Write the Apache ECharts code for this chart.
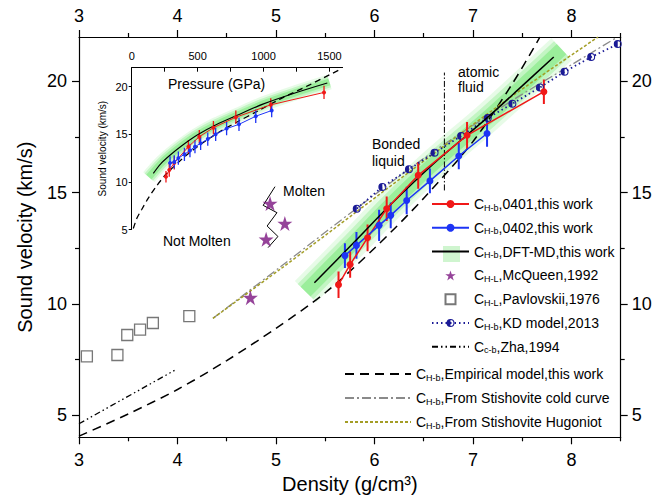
<!DOCTYPE html>
<html><head><meta charset="utf-8">
<script src="https://cdn.jsdelivr.net/npm/echarts@6/dist/echarts.min.js"></script>
<style>html,body{margin:0;padding:0;background:#fff}#c{width:672px;height:500px}</style>
</head><body><div id="c"></div>
<script>
// ---------- axis ticks ----------
const densityTicks = [3, 4, 5, 6, 7, 8];
const densityMinor = [3.5, 4.5, 5.5, 6.5, 7.5, 8.5];
const velocityTicks = [5, 10, 15, 20];
const velocityMinor = [7.5, 12.5, 17.5];
const pressureTicks = [0, 500, 1000, 1500];
const pressureAllTicks = [0, 250, 500, 750, 1000, 1250, 1500];
const insetVelocityTicks = [5, 10, 15, 20];

// ---------- main panel data (density g/cm3, velocity km/s) ----------
const red0401Density = [5.635, 5.753, 5.93, 6.124, 6.444, 6.94, 7.72];
const red0401Velocity = [10.86, 11.77, 12.97, 14.28, 15.78, 17.58, 19.54];
const red0401Error = [0.6, 0.6, 0.6, 0.55, 0.6, 0.6, 0.55];

const blue0402Density = [5.70, 5.817, 6.047, 6.165, 6.327, 6.563, 6.856, 7.143];
const blue0402Velocity = [12.17, 12.63, 13.53, 13.98, 14.65, 15.53, 16.65, 17.66];
const blue0402Error = [0.56, 0.6, 0.7, 0.58, 0.62, 0.56, 0.6, 0.6];

const dftDensity = [5.39, 5.8, 6.15, 6.6, 7.14, 7.5, 7.82];
const dftVelocity = [10.95, 12.8, 14.4, 16.3, 18.35, 19.8, 21.1];
const dftBandDensity = [5.3, 5.8, 6.15, 6.6, 7.14, 7.5, 7.9];
const dftBandVelocity = [10.55, 12.8, 14.4, 16.3, 18.35, 19.8, 21.45];

const mcqueenDensity = [4.74, 4.90, 4.94, 5.09];
const mcqueenVelocity = [10.28, 12.9, 14.51, 13.61];

const pavlovskiiDensity = [3.08, 3.39, 3.49, 3.62, 3.75, 4.12];
const pavlovskiiVelocity = [7.64, 7.70, 8.6, 8.84, 9.14, 9.45];

const kdDensity = [5.82, 6.08, 6.35, 6.61, 6.88, 7.15, 7.4, 7.68, 7.93, 8.2, 8.47];
const kdVelocity = [14.28, 15.26, 16.05, 16.8, 17.55, 18.36, 19.0, 19.73, 20.44, 21.1, 21.68];

const zhaDensity = [3.0, 3.97];
const zhaVelocity = [4.61, 7.01];

const empDensity = [3.0, 3.5, 4.0, 4.5, 5.0, 5.5, 6.0, 6.5, 7.0, 7.4, 7.68];
const empVelocity = [4.05, 5.05, 6.15, 7.45, 8.9, 10.5, 12.5, 14.75, 17.3, 19.9, 22.0];

const coldDensity = [4.36, 5.04, 5.82, 6.6, 7.4, 8.0, 8.45];
const coldVelocity = [9.35, 11.65, 14.3, 16.85, 19.15, 20.75, 21.95];

const hugDensity = [4.36, 5.04, 5.82, 6.6, 7.4, 8.27];
const hugVelocity = [9.35, 11.55, 14.15, 16.75, 19.35, 22.0];

const atomicDensity = [6.71, 6.71];
const atomicVelocity = [15.1, 20.4];

const zigzagDensity = [4.99, 4.87, 5.01, 4.91, 5.02, 4.92];
const zigzagVelocity = [15.27, 14.43, 14.1, 13.5, 13.03, 12.53];

// ---------- inset data (pressure GPa, velocity km/s) ----------
const insetRedPressure = [260, 285, 323, 430, 513, 620, 790, 1055, 1459];
const insetRedVelocity = [10.55, 11.25, 12.0, 13.7, 14.75, 15.7, 16.8, 18.1, 19.4];
const insetRedError = [0.6, 0.7, 0.7, 0.7, 0.7, 0.7, 0.7, 0.7, 0.7];

const insetBluePressure = [291, 323, 354, 400, 442, 480, 523, 577, 637, 720, 814, 941, 1062];
const insetBlueVelocity = [12.0, 12.1, 12.5, 12.9, 13.3, 13.7, 14.05, 14.5, 15.0, 15.6, 16.05, 16.9, 17.5];
const insetBlueError = [0.7, 0.7, 0.7, 0.7, 0.7, 0.7, 0.7, 0.7, 0.7, 0.7, 0.7, 0.7, 0.7];

const insetDftPressure = [164, 220, 290, 380, 500, 640, 800, 1000, 1250, 1484];
const insetDftVelocity = [10.9, 11.9, 12.8, 13.8, 14.95, 16.0, 17.0, 18.2, 19.4, 20.4];
const insetBandPressure = [130, 220, 290, 380, 500, 640, 800, 1000, 1250, 1500];
const insetBandVelocity = [10.5, 11.9, 12.8, 13.8, 14.95, 16.0, 17.0, 18.2, 19.4, 20.5];

const insetEmpPressure = [12, 40, 76, 126, 190, 260, 350, 450, 560, 670, 800, 950, 1125, 1350, 1593];
const insetEmpVelocity = [5.1, 6.2, 7.1, 8.3, 9.6, 10.8, 12.0, 13.2, 14.3, 15.3, 16.3, 17.4, 18.7, 20.2, 21.9];

// ---------- helpers ----------
const FONT = "'Liberation Sans', Arial, Helvetica, sans-serif";
const pairs = (xs, ys) => xs.map((x, i) => [x, ys[i]]);
const halfCircle = 'path://M10,0A10,10,0,1,1,10,20A10,10,0,1,1,10,0ZM10,2.6A7.4,7.4,0,1,0,10,17.4A7.4,7.4,0,1,0,10,2.6ZM10,2.6A7.4,7.4,0,0,0,10,17.4Z';
const starPath = 'path://M50,0L61.8,36.2L100,36.2L69.1,58.8L80.9,95.1L50,72.7L19.1,95.1L30.9,58.8L0,36.2L38.2,36.2Z';
const squarePath = 'path://M0,0L10,0L10,10L0,10Z';

function lineS(name, xs, ys, o) {
  return Object.assign({
    type: 'line', name: name, data: pairs(xs, ys), symbol: 'none',
    xAxisIndex: 0, yAxisIndex: 0, silent: true, clip: true, z: 3
  }, o);
}
function errS(xs, ys, es, color, xi, yi, w) {
  return {
    type: 'custom', xAxisIndex: xi, yAxisIndex: yi, z: 4, silent: true, clip: true,
    data: xs.map((x, i) => [x, ys[i] - es[i], ys[i] + es[i]]),
    encode: { x: 0, y: [1, 2] },
    renderItem: function (params, api) {
      const a = api.coord([api.value(0), api.value(1)]);
      const b = api.coord([api.value(0), api.value(2)]);
      return { type: 'line', shape: { x1: a[0], y1: a[1], x2: b[0], y2: b[1] }, style: { stroke: color, lineWidth: w } };
    }
  };
}
function bandS(xs, ys, xi, yi, widths) {
  const alphas = [0.13, 0.22, 0.32];
  return widths.map((w, k) => lineS('band' + xi + '_' + k, xs, ys, {
    xAxisIndex: xi, yAxisIndex: yi, z: 1, smooth: 0.3,
    lineStyle: { color: 'rgba(70,225,70,' + alphas[k] + ')', width: w, cap: 'butt', join: 'round' }
  }));
}

function mainX(pos, ticks, len, labels) {
  return {
    type: 'value', gridIndex: 0, min: 3, max: 8.5, position: pos,
    axisLine: { show: labels, onZero: false, lineStyle: { color: '#000', width: 1.2 } },
    axisTick: { show: true, customValues: ticks, length: len, lineStyle: { color: '#000', width: 1.2 } },
    axisLabel: { show: labels, customValues: ticks, fontSize: 18, fontFamily: FONT, color: '#000', margin: pos === 'top' ? 12 : 14 },
    splitLine: { show: false }
  };
}
function mainY(pos, ticks, len, labels) {
  return {
    type: 'value', gridIndex: 0, min: 4, max: 22, position: pos,
    axisLine: { show: labels, onZero: false, lineStyle: { color: '#000', width: 1.2 } },
    axisTick: { show: true, customValues: ticks, length: len, lineStyle: { color: '#000', width: 1.2 } },
    axisLabel: { show: labels, customValues: ticks, fontSize: 18, fontFamily: FONT, color: '#000', margin: pos === 'right' ? 11 : 12 },
    splitLine: { show: false }
  };
}

const xAxes = [
  Object.assign(mainX('bottom', densityTicks, 7, true), {
    name: 'Density (g/cm³)', nameLocation: 'middle', nameGap: 37,
    nameTextStyle: { fontSize: 20, fontFamily: FONT, color: '#000' }
  }),
  mainX('top', densityTicks, 7, true),
  mainX('bottom', densityMinor, 4, false),
  mainX('top', densityMinor, 4, false),
  {
    type: 'value', gridIndex: 1, min: 0, max: 1600, position: 'top',
    axisLine: { show: true, onZero: false, lineStyle: { color: '#000', width: 1 } },
    axisTick: { show: true, inside: true, customValues: pressureAllTicks, length: 4, lineStyle: { color: '#000' } },
    axisLabel: { customValues: pressureTicks, formatter: v => String(v), fontSize: 11, fontFamily: FONT, color: '#000', margin: 6 },
    splitLine: { show: false }
  }
];
const yAxes = [
  Object.assign(mainY('left', velocityTicks, 7, true), {
    name: 'Sound velocity (km/s)', nameLocation: 'middle', nameGap: 44,
    nameTextStyle: { fontSize: 20, fontFamily: FONT, color: '#000' }
  }),
  mainY('right', velocityTicks, 7, true),
  mainY('left', velocityMinor, 4, false),
  mainY('right', velocityMinor, 4, false),
  {
    type: 'value', gridIndex: 1, min: 5, max: 22, position: 'left',
    axisLine: { show: true, onZero: false, lineStyle: { color: '#000', width: 1 } },
    axisTick: { show: true, customValues: insetVelocityTicks, length: 3, lineStyle: { color: '#000' } },
    axisLabel: { customValues: insetVelocityTicks, fontSize: 11, fontFamily: FONT, color: '#000', margin: 4 },
    splitLine: { show: false },
    name: 'Sound velocity (km/s)', nameLocation: 'middle', nameGap: 24,
    nameTextStyle: { fontSize: 10, fontFamily: FONT, color: '#000' }
  }
];

const N = {
  r: 'C_H-b,0401,this work', b: 'C_H-b,0402,this work', d: 'C_H-b,DFT-MD,this work',
  m: 'C_H-L,McQueen,1992', p: 'C_H-L,Pavlovskii,1976', k: 'C_H-b,KD model,2013', z: 'C_c-b,Zha,1994',
  e: 'C_H-b,Empirical model,this work', c: 'C_H-b,From Stishovite cold curve', h: 'C_H-b,From Stishovite Hugoniot'
};
const RED = '#f01818', BLUE = '#1d34f5', OLIVE = '#a39d25', NAVY = '#1a1a96', PURPLE = '#7a1480';

const series = [].concat(
  bandS(dftBandDensity, dftBandVelocity, 0, 0, [30, 22, 14]),
  [
    lineS(N.z, zhaDensity, zhaVelocity, { lineStyle: { color: '#000', width: 1.3, type: [6, 3, 1.5, 3, 1.5, 3] } }),
    lineS(N.e, empDensity, empVelocity, { smooth: 0.3, lineStyle: { color: '#000', width: 1.5, type: [9, 6] } }),
    lineS(N.c, coldDensity, coldVelocity, { smooth: 0.3, lineStyle: { color: '#8a8a8a', width: 1.3, type: [9, 3, 2, 3] } }),
    lineS(N.h, hugDensity, hugVelocity, { smooth: 0.3, lineStyle: { color: OLIVE, width: 1.5, type: [3, 2] } }),
    lineS(N.k, kdDensity, kdVelocity, { symbol: halfCircle, symbolSize: 8, showSymbol: true, itemStyle: { color: NAVY }, lineStyle: { color: NAVY, width: 1.8, type: [1.5, 3] }, z: 4 }),
    lineS(N.d, dftDensity, dftVelocity, { smooth: 0.3, lineStyle: { color: '#000', width: 1.5 }, z: 5 }),
    lineS('atomic fluid boundary', atomicDensity, atomicVelocity, { lineStyle: { color: '#000', width: 1, type: [6, 2, 1.5, 2] } }),
    lineS('molten boundary', zigzagDensity, zigzagVelocity, { lineStyle: { color: '#000', width: 1 } }),
    errS(red0401Density, red0401Velocity, red0401Error, RED, 0, 0, 2),
    errS(blue0402Density, blue0402Velocity, blue0402Error, BLUE, 0, 0, 2),
    lineS(N.r, red0401Density, red0401Velocity, { symbol: 'circle', symbolSize: 7, showSymbol: true, itemStyle: { color: RED }, lineStyle: { color: RED, width: 1.5 }, z: 6 }),
    lineS(N.b, blue0402Density, blue0402Velocity, { symbol: 'circle', symbolSize: 7, showSymbol: true, itemStyle: { color: BLUE }, lineStyle: { color: BLUE, width: 1.5 }, z: 6 }),
    { type: 'scatter', name: N.m, data: pairs(mcqueenDensity, mcqueenVelocity), symbol: starPath, symbolSize: 15, itemStyle: { color: PURPLE }, silent: true, z: 7 },
    { type: 'scatter', name: N.p, data: pairs(pavlovskiiDensity, pavlovskiiVelocity), symbol: squarePath, symbolSize: 11, itemStyle: { color: '#fff', borderColor: '#555', borderWidth: 1.3 }, silent: true, z: 7 }
  ],
  bandS(insetBandPressure, insetBandVelocity, 4, 4, [15, 11, 7]),
  [
    lineS('inset empirical', insetEmpPressure, insetEmpVelocity, { xAxisIndex: 4, yAxisIndex: 4, smooth: 0.3, lineStyle: { color: '#000', width: 1.3, type: [6, 4] } }),
    lineS('inset DFT-MD', insetDftPressure, insetDftVelocity, { xAxisIndex: 4, yAxisIndex: 4, smooth: 0.3, lineStyle: { color: '#000', width: 1.1 }, z: 5 }),
    errS(insetRedPressure, insetRedVelocity, insetRedError, RED, 4, 4, 1.3),
    errS(insetBluePressure, insetBlueVelocity, insetBlueError, BLUE, 4, 4, 1.3),
    lineS('inset 0401', insetRedPressure, insetRedVelocity, { xAxisIndex: 4, yAxisIndex: 4, symbol: 'circle', symbolSize: 4, showSymbol: true, itemStyle: { color: RED }, lineStyle: { color: RED, width: 1 }, z: 6 }),
    lineS('inset 0402', insetBluePressure, insetBlueVelocity, { xAxisIndex: 4, yAxisIndex: 4, symbol: 'circle', symbolSize: 4, showSymbol: true, itemStyle: { color: BLUE }, lineStyle: { color: BLUE, width: 1 }, z: 6 })
  ]
);

const legendRich = {
  c: { fontSize: 14, lineHeight: 16, fontFamily: FONT, color: '#000' },
  s: { fontSize: 9, lineHeight: 8, verticalAlign: 'bottom', fontFamily: FONT, color: '#000' }
};
function legendFmt(name) {
  const m = name.match(/^C_([^,]+),(.*)$/);
  return '{c|C}{s|' + m[1] + '}{c|,' + m[2] + '}';
}
const noSym = name => ({ name: name, itemStyle: { opacity: 0 } });

const option = {
  animation: false,
  backgroundColor: '#fff',
  grid: [
    { left: 79, top: 37, width: 541.7, height: 400.3, show: false },
    { left: 131.7, top: 67.7, width: 210.9, height: 161.8, show: false }
  ],
  xAxis: xAxes,
  yAxis: yAxes,
  legend: [
    {
      orient: 'vertical', left: 431, top: 197, padding: 0, itemGap: 8.8,
      itemWidth: 37, itemHeight: 10, selectedMode: false,
      data: [N.r, N.b, noSym(N.d), N.m, N.p, N.k, noSym(N.z)],
      formatter: legendFmt, textStyle: { rich: legendRich }
    },
    {
      orient: 'vertical', left: 344, top: 367, padding: 0, itemGap: 9,
      itemWidth: 66, itemHeight: 10, selectedMode: false,
      data: [noSym(N.e), noSym(N.c), noSym(N.h)],
      formatter: legendFmt, textStyle: { rich: legendRich }
    }
  ],
  graphic: [
    { type: 'rect', left: 443, top: 246, shape: { width: 17, height: 16 }, style: { fill: '#cff5cf' }, z: -1 },
    { type: 'text', left: 283, top: 184, style: { text: 'Molten', font: '14px ' + FONT, fill: '#000' } },
    { type: 'text', left: 163, top: 234, style: { text: 'Not Molten', font: '14px ' + FONT, fill: '#000' } },
    { type: 'text', left: 372, top: 135, style: { text: 'Bonded\nliquid', font: '14px ' + FONT, fill: '#000', lineHeight: 17 } },
    { type: 'text', left: 458, top: 64, style: { text: 'atomic\nfluid', font: '14px ' + FONT, fill: '#000', lineHeight: 15 } },
    { type: 'text', left: 168, top: 77, style: { text: 'Pressure (GPa)', font: '14px ' + FONT, fill: '#000' } }
  ],
  series: series
};

const chart = echarts.init(document.getElementById('c'), null, { renderer: 'svg', width: 672, height: 500 });
chart.setOption(option);
</script></body></html>
